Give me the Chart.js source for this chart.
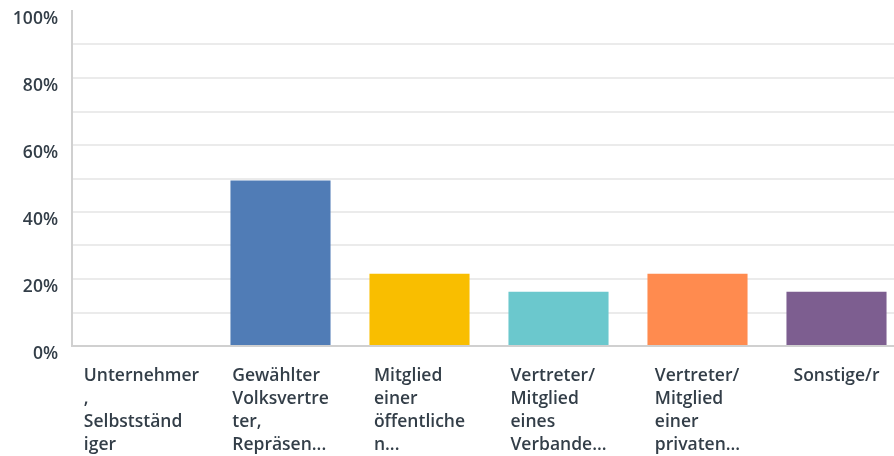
<!DOCTYPE html>
<html>
<head>
<meta charset="utf-8">
<script src="https://cdn.jsdelivr.net/npm/chart.js@4.4.1/dist/chart.umd.min.js"></script>
<style>
  html, body { margin: 0; padding: 0; background: #fff; overflow: hidden; }
  #wrap { width: 906px; height: 456px; }
</style>
</head>
<body>
<div id="wrap"><canvas id="c" width="906" height="456"></canvas></div>
<script>
const categories = [
  ["Unternehmer", ",", "Selbstständ", "iger"],
  ["Gewählter", "Volksvertre", "ter,", "Repräsen..."],
  ["Mitglied", "einer", "öffentliche", "n..."],
  ["Vertreter/", "Mitglied", "eines", "Verbande..."],
  ["Vertreter/", "Mitglied", "einer", "privaten..."],
  ["Sonstige/r"]
];
const values = [0, 49.4, 21.6, 16.2, 21.6, 16.2];
const barColors = ["#507cb6", "#507cb6", "#f9be00", "#6bc8cd", "#ff8b4f", "#7d5e90"];
const yTickValues = [0, 20, 40, 60, 80, 100];

const FONT_FAMILY = "'Open Sans', sans-serif";
const FONT_SIZE = 17.5;
const TEXT_COLOR = "#333e48";

const leftLabels = {
  id: 'leftLabels',
  afterDraw(chart) {
    const ctx = chart.ctx;
    const xs = chart.scales.x;
    const base = chart.chartArea.bottom;
    ctx.save();
    ctx.font = "600 " + FONT_SIZE + "px " + FONT_FAMILY;
    ctx.fillStyle = TEXT_COLOR;
    ctx.textAlign = 'left';
    ctx.textBaseline = 'alphabetic';
    categories.forEach((lines, i) => {
      const cx = xs.getPixelForValue(i);
      let maxW = 0;
      lines.forEach(l => { maxW = Math.max(maxW, ctx.measureText(l).width); });
      const left = cx - maxW / 2;
      lines.forEach((l, k) => ctx.fillText(l, left, base + 35 + k * 23));
    });
    ctx.restore();
  }
};

new Chart(document.getElementById('c'), {
  type: 'bar',
  data: {
    labels: categories.map(l => l.join(' ')),
    datasets: [{
      data: values,
      backgroundColor: barColors,
      borderWidth: 0,
      categoryPercentage: 1,
      barPercentage: 0.72
    }]
  },
  options: {
    responsive: false,
    animation: false,
    devicePixelRatio: 1,
    layout: { padding: { top: 11, left: 0, right: 0, bottom: 0 } },
    plugins: { legend: { display: false }, tooltip: { enabled: false } },
    scales: {
      x: {
        grid: { display: false },
        border: { color: '#d0d0d0', width: 2 },
        ticks: { display: false },
        afterFit(s) { s.height = 110; s.paddingLeft = 0; s.paddingRight = 0; }
      },
      y: {
        min: 0, max: 100,
        ticks: {
          stepSize: 10,
          color: TEXT_COLOR,
          font: { family: FONT_FAMILY, size: FONT_SIZE, weight: '600' },
          padding: 14,
          labelOffset: 8,
          callback: v => yTickValues.includes(v) ? v + '%' : ''
        },
        grid: {
          color: c => (c.tick && c.tick.value === 100) ? 'rgba(0,0,0,0)' : '#ebebeb',
          lineWidth: 2,
          drawTicks: false
        },
        border: { color: '#d0d0d0', width: 2 },
        afterFit(s) { s.width = 72; s.paddingTop = 0; s.paddingBottom = 0; }
      }
    }
  },
  plugins: [leftLabels]
});
</script>
</body>
</html>
